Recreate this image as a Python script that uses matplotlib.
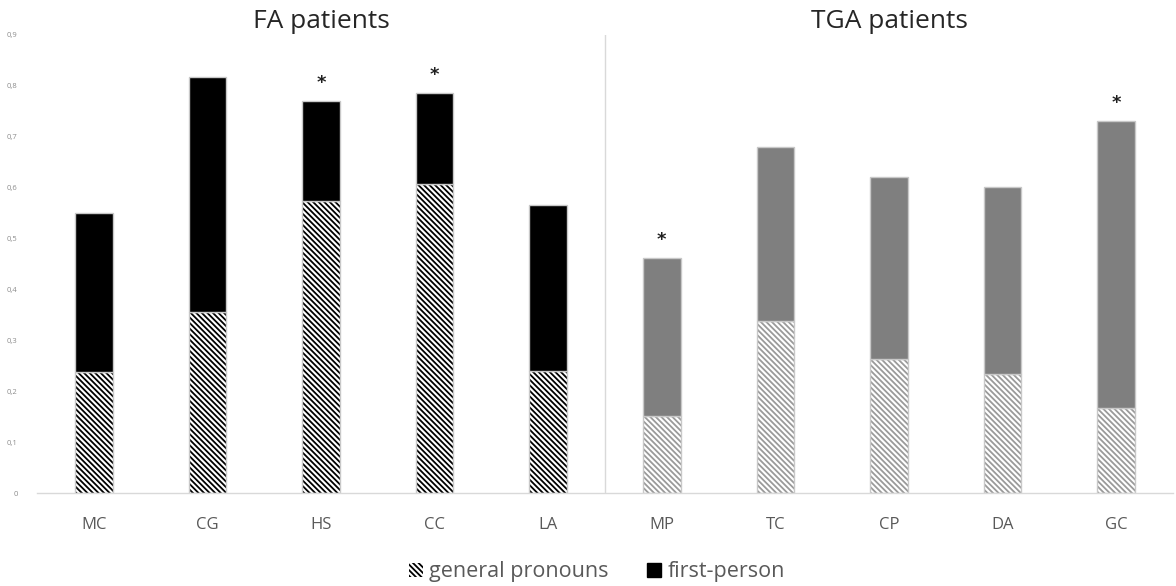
import matplotlib
matplotlib.use("Agg")
import matplotlib.pyplot as plt
from matplotlib.patches import Patch

plt.rcParams['font.family'] = ['Open Sans', 'DejaVu Sans']
plt.rcParams['hatch.linewidth'] = 1.3

patients = ["MC", "CG", "HS", "CC", "LA", "MP", "TC", "CP", "DA", "GC"]
groups = ["FA", "FA", "FA", "FA", "FA", "TGA", "TGA", "TGA", "TGA", "TGA"]
general_pronouns = [0.238, 0.356, 0.574, 0.607, 0.240, 0.151, 0.338, 0.263, 0.234, 0.167]
totals = [0.550, 0.817, 0.770, 0.786, 0.566, 0.462, 0.680, 0.621, 0.601, 0.731]
first_person = [t - g for t, g in zip(totals, general_pronouns)]
significant = [False, False, True, True, False, True, False, False, False, True]
yticks = [0, 0.1, 0.2, 0.3, 0.4, 0.5, 0.6, 0.7, 0.8, 0.9]
ytick_labels = ["0", "0,1", "0,2", "0,3", "0,4", "0,5", "0,6", "0,7", "0,8", "0,9"]

fig = plt.figure(figsize=(11.76, 5.86), dpi=100)
ax = fig.add_axes([37/1176, 1 - 493/586, (1173 - 37)/1176, (493 - 35)/586])

x = list(range(len(patients)))
w = 0.33
HATCH = "\\\\\\\\\\\\"
for i in x:
    fa = groups[i] == "FA"
    hatch_col = "black" if fa else "#9a9a9a"
    top_col = "black" if fa else "#7f7f7f"
    ax.bar(i, general_pronouns[i], w, color="white", edgecolor=hatch_col,
           hatch=HATCH, linewidth=0)
    ax.bar(i, general_pronouns[i], w, color="none", edgecolor="#c8c8c8", linewidth=1.0)
    ax.bar(i, first_person[i], w, bottom=general_pronouns[i], color=top_col,
           edgecolor="#c8c8c8", linewidth=1.0)
    if significant[i]:
        ax.text(i, totals[i] + 0.018, "*", ha="center", va="bottom",
                fontsize=13, fontweight="bold", color="#202020", family="DejaVu Sans")

ax.set_xlim(-0.5, len(patients) - 0.5)
ax.set_ylim(0, 0.9)
ax.set_yticks(yticks)
ax.set_yticklabels(ytick_labels, fontsize=5.5, color="#8c8c8c")
ax.set_xticks(x)
ax.set_xticklabels(patients, fontsize=12, color="#595959")
ax.tick_params(axis="both", length=0)
ax.tick_params(axis="x", pad=17)
ax.tick_params(axis="y", pad=14)
for s in ["top", "right", "left"]:
    ax.spines[s].set_visible(False)
ax.spines["bottom"].set_color("#d9d9d9")
ax.spines["bottom"].set_linewidth(1.0)

ax.axvline(4.5, color="#d9d9d9", linewidth=1.0)

title_y = 1 - 21/586
fig.text((37 + 2.5 * 113.6) / 1176, title_y, "FA patients", ha="center", va="center",
         fontsize=19, color="#262626")
fig.text((37 + 7.5 * 113.6) / 1176, title_y, "TGA patients", ha="center", va="center",
         fontsize=19, color="#262626")

handles = [
    Patch(facecolor="white", edgecolor="black", hatch=HATCH, linewidth=0, label="general pronouns"),
    Patch(facecolor="black", edgecolor="black", label="first-person"),
]
fig.legend(handles=handles, loc="center", bbox_to_anchor=(597/1176, 1 - 572/586), ncol=2,
           frameon=False, fontsize=15.5, handlelength=0.65, handleheight=0.65,
           handletextpad=0.28, columnspacing=1.8, labelcolor="#595959")

fig.savefig("out.png", dpi=100)
